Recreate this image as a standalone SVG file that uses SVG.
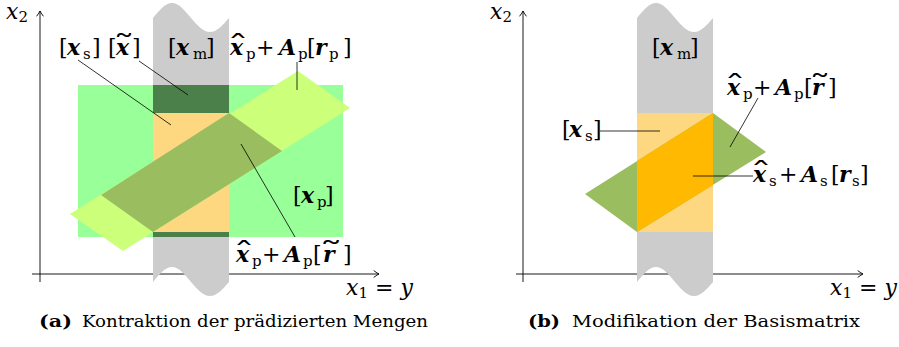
<svg xmlns="http://www.w3.org/2000/svg" width="899" height="347" viewBox="0 0 899 347">
<style>
.ax{fill:none;stroke:#000;stroke-width:0.9}
.ld{fill:none;stroke:#000;stroke-width:0.8}
.strip{fill:#cccccc}
.t{font-family:"DejaVu Serif","Liberation Serif",serif;font-size:22px;fill:#000}
.bi{font-weight:bold;font-style:italic}
.it{font-style:italic}
.up{font-style:normal;font-weight:normal}
.sub{font-size:15px}
.acc{font-family:"DejaVu Serif","Liberation Serif",serif;font-size:22px;fill:#000;text-anchor:middle}
.cap{font-family:"DejaVu Serif","Liberation Serif",serif;font-size:16px;fill:#000}
</style>
<defs>
<marker id="arr" markerWidth="10" markerHeight="10" refX="0" refY="0" viewBox="-6 -5 8 10" orient="auto" markerUnits="userSpaceOnUse">
<path d="M-5,-3.2 Q-1.5,-0.6 0,0 Q-1.5,0.6 -5,3.2" fill="none" stroke="#000" stroke-width="0.9" stroke-linecap="round"/>
</marker>
<path id="stripShape" d="M153,18 C159.65,9.75 165.35,3 172,3 C178.65,3 184.35,9.75 191,18 C197.65,25.7 203.35,32 210,32 C216.65,32 222.35,25.7 229,18 L229,282 C222.35,289.7 216.65,296 210,296 C203.35,296 197.65,289.7 191,282 C184.35,273.75 178.65,267 172,267 C165.35,267 159.65,273.75 153,282 Z"/>
</defs>

<!-- Panel (a) -->
<g id="axes-a">
<line class="ax" x1="40" y1="282" x2="40" y2="11" marker-end="url(#arr)"/>
<line class="ax" x1="32" y1="274" x2="379" y2="274" marker-end="url(#arr)"/>
</g>
<g id="strip-a"><use href="#stripShape" class="strip"/></g>
<g id="set-xp"><rect x="78" y="85" width="265" height="152" fill="#99ff99"/></g>
<g id="set-xtilde">
<rect x="153" y="85" width="76" height="28" fill="#4b804b"/>
<rect x="153" y="232" width="76" height="5" fill="#4b804b"/>
</g>
<g id="set-xs-a"><rect x="153" y="113" width="76" height="119" fill="#fed880"/></g>
<g id="zono-rp"><polygon points="70,214 123,251 350,108 298,71" fill="#ccff7a"/></g>
<g id="zono-rtilde-a"><polygon points="101,195 153,232 282,151 229,113" fill="#9abd5f"/></g>

<!-- Panel (b) -->
<g id="axes-b">
<line class="ax" x1="523" y1="282" x2="523" y2="11" marker-end="url(#arr)"/>
<line class="ax" x1="516" y1="274" x2="863" y2="274" marker-end="url(#arr)"/>
</g>
<g id="strip-b"><use href="#stripShape" class="strip" transform="translate(484,0)"/></g>
<g id="set-xs-b"><rect x="637" y="113" width="76" height="119" fill="#fed880"/></g>
<g id="zono-rtilde-b"><polygon points="585,194 637,232 766,152 713,113" fill="#9abd5f"/></g>
<g id="zono-rs"><polygon points="637,161 713,113 713,185 637,232" fill="#ffb900"/></g>

<!-- Connectors (leader lines) -->
<g id="connectors">
<line class="ld" x1="78" y1="60" x2="171" y2="125"/>
<line class="ld" x1="139" y1="61" x2="188" y2="95"/>
<line class="ld" x1="297" y1="62" x2="297" y2="90"/>
<line class="ld" x1="241" y1="144" x2="295" y2="237"/>
<line class="ld" x1="758" y1="98" x2="730" y2="147"/>
<line class="ld" x1="600" y1="131" x2="660" y2="131"/>
<line class="ld" x1="693" y1="176" x2="753" y2="176"/>
</g>

<!-- Labels (a) -->
<g id="label-x2-a"><text class="t it" x="6" y="19" font-size="21">x<tspan class="sub up" dy="3">2</tspan></text></g>
<g id="label-x1-a"><text class="t it" x="346" y="295" font-size="21">x<tspan class="sub up" dy="3">1</tspan><tspan class="up" dy="-3"> = </tspan>y</text></g>
<g id="label-xs-a"><text class="t" y="55"><tspan x="59">[</tspan><tspan class="bi" x="67">x</tspan><tspan class="sub" x="83" dy="4">s</tspan><tspan x="92" dy="-4">]</tspan></text></g>
<g id="label-xtilde"><text class="t" y="55"><tspan x="108">[</tspan><tspan class="bi" x="116">x</tspan><tspan x="132">]</tspan></text>
<text class="acc" transform="translate(124,55) scale(2.0,1.3)">˜</text></g>
<g id="label-xm-a"><text class="t" y="55"><tspan x="168">[</tspan><tspan class="bi" x="176">x</tspan><tspan class="sub" x="193" dy="4">m</tspan><tspan x="206" dy="-4">]</tspan></text></g>
<g id="label-rp"><text class="t" y="55"><tspan class="bi" x="230">x</tspan><tspan class="sub" x="246" dy="4">p</tspan><tspan x="256" dy="-4">+</tspan><tspan class="bi" x="279">A</tspan><tspan class="sub" x="298" dy="4">p</tspan><tspan x="307" dy="-4">[</tspan><tspan class="bi" x="315">r</tspan><tspan class="sub" x="329" dy="4">p</tspan><tspan x="343" dy="-4">]</tspan></text>
<text class="acc" transform="translate(238,55) scale(2.0,1.3)">ˆ</text></g>
<g id="label-xp"><text class="t" y="203"><tspan x="293">[</tspan><tspan class="bi" x="301">x</tspan><tspan class="sub" x="317" dy="4">p</tspan><tspan x="325" dy="-4">]</tspan></text></g>
<g id="label-rtilde-a"><text class="t" y="262"><tspan class="bi" x="236">x</tspan><tspan class="sub" x="252" dy="4">p</tspan><tspan x="262" dy="-4">+</tspan><tspan class="bi" x="284">A</tspan><tspan class="sub" x="303" dy="4">p</tspan><tspan x="313" dy="-4">[</tspan><tspan class="bi" x="323">r</tspan><tspan x="343">]</tspan></text>
<text class="acc" transform="translate(244,262) scale(2.0,1.3)">ˆ</text>
<text class="acc" transform="translate(331,262) scale(2.2,1.3)">˜</text></g>

<!-- Labels (b) -->
<g id="label-x2-b"><text class="t it" x="490" y="19" font-size="21">x<tspan class="sub up" dy="3">2</tspan></text></g>
<g id="label-x1-b"><text class="t it" x="830" y="295" font-size="21">x<tspan class="sub up" dy="3">1</tspan><tspan class="up" dy="-3"> = </tspan>y</text></g>
<g id="label-xm-b"><text class="t" y="55"><tspan x="652">[</tspan><tspan class="bi" x="660">x</tspan><tspan class="sub" x="677" dy="4">m</tspan><tspan x="690" dy="-4">]</tspan></text></g>
<g id="label-rtilde-b"><text class="t" y="95"><tspan class="bi" x="727">x</tspan><tspan class="sub" x="743" dy="4">p</tspan><tspan x="753" dy="-4">+</tspan><tspan class="bi" x="775">A</tspan><tspan class="sub" x="794" dy="4">p</tspan><tspan x="804" dy="-4">[</tspan><tspan class="bi" x="812">r</tspan><tspan x="828">]</tspan></text>
<text class="acc" transform="translate(735,95) scale(2.0,1.3)">ˆ</text>
<text class="acc" transform="translate(820,95) scale(2.0,1.3)">˜</text></g>
<g id="label-xs-b"><text class="t" y="137"><tspan x="562">[</tspan><tspan class="bi" x="569">x</tspan><tspan class="sub" x="585" dy="4">s</tspan><tspan x="593" dy="-4">]</tspan></text></g>
<g id="label-rs"><text class="t" y="182"><tspan class="bi" x="753">x</tspan><tspan class="sub" x="769" dy="4">s</tspan><tspan x="779" dy="-4">+</tspan><tspan class="bi" x="801">A</tspan><tspan class="sub" x="820" dy="4">s</tspan><tspan x="831" dy="-4">[</tspan><tspan class="bi" x="839">r</tspan><tspan class="sub" x="852" dy="4">s</tspan><tspan x="860" dy="-4">]</tspan></text>
<text class="acc" transform="translate(761,182) scale(2.0,1.3)">ˆ</text></g>

<!-- Captions -->
<g id="caption-a"><text class="cap" y="327"><tspan x="39" font-weight="bold" textLength="33" lengthAdjust="spacingAndGlyphs">(a)</tspan><tspan x="82" textLength="346" lengthAdjust="spacingAndGlyphs">Kontraktion der prädizierten Mengen</tspan></text></g>
<g id="caption-b"><text class="cap" y="327"><tspan x="528" font-weight="bold" textLength="32" lengthAdjust="spacingAndGlyphs">(b)</tspan><tspan x="572" textLength="288" lengthAdjust="spacingAndGlyphs">Modifikation der Basismatrix</tspan></text></g>
</svg>
